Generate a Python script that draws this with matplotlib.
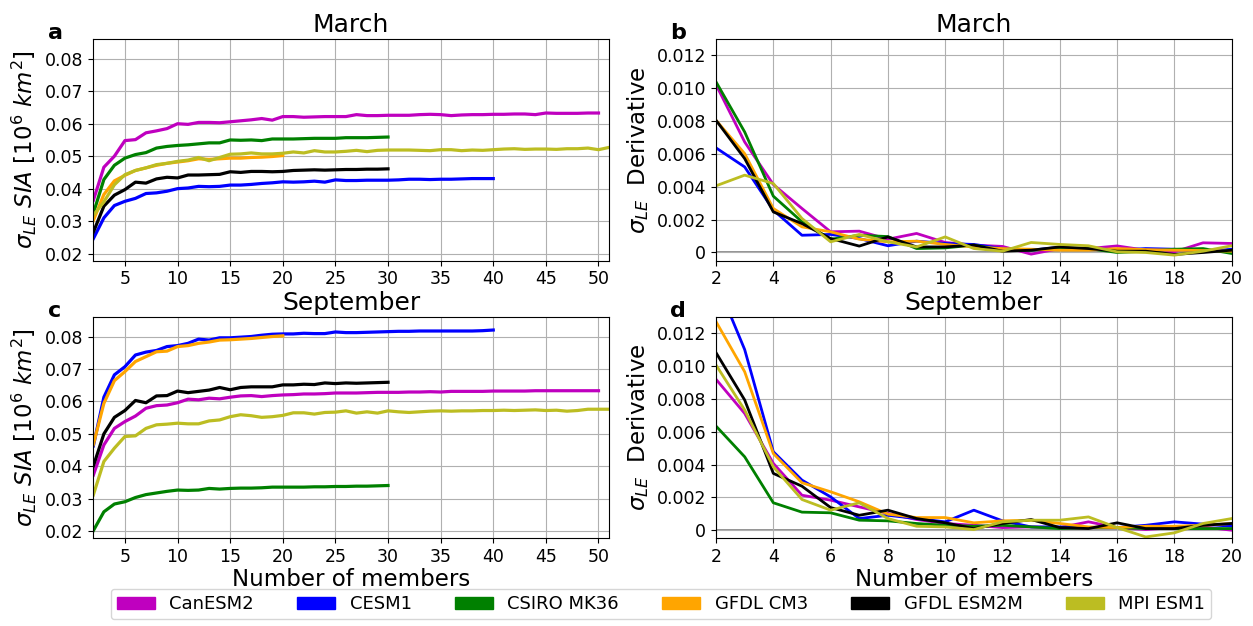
#!/usr/bin/env python3

import numpy as np
import matplotlib
matplotlib.use('Agg')
import matplotlib.pyplot as plt
import matplotlib.patches as mpatches

models = ['CanESM2', 'CESM1', 'CSIRO MK36', 'GFDL CM3', 'GFDL ESM2M', 'MPI ESM1']
colors = ['m', 'b', 'g', 'orange', 'k', 'tab:olive']

# sigma_LE of sea ice area vs ensemble size, starting at 2 members
mar_canesm2 = [0.0364, 0.0466, 0.0500, 0.0548, 0.0551, 0.0572, 0.0578, 0.0585, 0.0600, 0.0598,
               0.0604, 0.0604, 0.0603, 0.0606, 0.0609, 0.0612, 0.0616, 0.0611, 0.0622, 0.0622,
               0.0620, 0.0621, 0.0622, 0.0622, 0.0622, 0.0628, 0.0625, 0.0625, 0.0626, 0.0626,
               0.0626, 0.0628, 0.0629, 0.0628, 0.0625, 0.0627, 0.0628, 0.0628, 0.0629, 0.0629,
               0.0630, 0.0630, 0.0628, 0.0633, 0.0632, 0.0632, 0.0632, 0.0633, 0.0633]
mar_cesm1 = [0.0246, 0.0310, 0.0348, 0.0361, 0.0370, 0.0385, 0.0387, 0.0392, 0.0400, 0.0402,
             0.0407, 0.0406, 0.0407, 0.0411, 0.0411, 0.0413, 0.0416, 0.0418, 0.0421, 0.0420,
             0.0421, 0.0423, 0.0420, 0.0427, 0.0425, 0.0425, 0.0426, 0.0426, 0.0426, 0.0427,
             0.0429, 0.0429, 0.0428, 0.0429, 0.0429, 0.0430, 0.0431, 0.0431, 0.0431]
mar_csiro = [0.0324, 0.0428, 0.0472, 0.0494, 0.0505, 0.0511, 0.0525, 0.0530, 0.0533, 0.0535,
             0.0538, 0.0541, 0.0541, 0.0550, 0.0549, 0.0550, 0.0548, 0.0553, 0.0553, 0.0553,
             0.0554, 0.0555, 0.0555, 0.0555, 0.0557, 0.0557, 0.0557, 0.0558, 0.0559]
mar_gfdl_cm3 = [0.0302, 0.0382, 0.0424, 0.0441, 0.0456, 0.0464, 0.0472, 0.0478, 0.0482, 0.0486,
                0.0492, 0.0490, 0.0492, 0.0494, 0.0494, 0.0496, 0.0497, 0.0499, 0.0502]
mar_gfdl_esm2m = [0.0266, 0.0346, 0.0380, 0.0397, 0.0420, 0.0417, 0.0430, 0.0435, 0.0433, 0.0442,
                  0.0442, 0.0443, 0.0444, 0.0452, 0.0450, 0.0453, 0.0453, 0.0452, 0.0453, 0.0456,
                  0.0457, 0.0458, 0.0457, 0.0458, 0.0459, 0.0459, 0.0460, 0.0460, 0.0461]
mar_mpi = [0.0318, 0.0359, 0.0412, 0.0443, 0.0456, 0.0464, 0.0474, 0.0478, 0.0484, 0.0488,
           0.0496, 0.0486, 0.0496, 0.0506, 0.0507, 0.0510, 0.0507, 0.0507, 0.0509, 0.0513,
           0.0510, 0.0517, 0.0513, 0.0513, 0.0515, 0.0518, 0.0514, 0.0518, 0.0519, 0.0519,
           0.0519, 0.0518, 0.0517, 0.0520, 0.0520, 0.0517, 0.0519, 0.0518, 0.0520, 0.0522,
           0.0523, 0.0521, 0.0522, 0.0522, 0.0521, 0.0523, 0.0523, 0.0525, 0.0520, 0.0527]

sep_canesm2 = [0.0373, 0.0466, 0.0517, 0.0538, 0.0555, 0.0579, 0.0587, 0.0589, 0.0596, 0.0607,
               0.0605, 0.0610, 0.0608, 0.0613, 0.0617, 0.0618, 0.0615, 0.0618, 0.0620, 0.0621,
               0.0623, 0.0623, 0.0624, 0.0626, 0.0626, 0.0626, 0.0627, 0.0628, 0.0628, 0.0628,
               0.0629, 0.0629, 0.0630, 0.0629, 0.0631, 0.0631, 0.0631, 0.0631, 0.0632, 0.0632,
               0.0632, 0.0632, 0.0633, 0.0633, 0.0633, 0.0633, 0.0633, 0.0633, 0.0633]
sep_cesm1 = [0.0463, 0.0613, 0.0682, 0.0707, 0.0743, 0.0752, 0.0757, 0.0769, 0.0772, 0.0779,
             0.0792, 0.0789, 0.0796, 0.0796, 0.0798, 0.0800, 0.0804, 0.0807, 0.0808, 0.0808,
             0.0810, 0.0809, 0.0809, 0.0814, 0.0812, 0.0812, 0.0813, 0.0814, 0.0815, 0.0816,
             0.0816, 0.0817, 0.0817, 0.0817, 0.0817, 0.0817, 0.0817, 0.0818, 0.0820]
sep_csiro = [0.0202, 0.0260, 0.0284, 0.0291, 0.0304, 0.0313, 0.0318, 0.0323, 0.0327, 0.0326,
             0.0327, 0.0332, 0.0330, 0.0332, 0.0333, 0.0333, 0.0334, 0.0336, 0.0336, 0.0336,
             0.0336, 0.0337, 0.0337, 0.0338, 0.0338, 0.0339, 0.0339, 0.0340, 0.0341]
sep_gfdl_cm3 = [0.0467, 0.0594, 0.0664, 0.0692, 0.0723, 0.0738, 0.0753, 0.0755, 0.0769, 0.0772,
                0.0779, 0.0783, 0.0789, 0.0790, 0.0792, 0.0794, 0.0797, 0.0800, 0.0802]
sep_gfdl_esm2m = [0.0401, 0.0500, 0.0551, 0.0572, 0.0603, 0.0596, 0.0617, 0.0618, 0.0632, 0.0627,
                  0.0631, 0.0635, 0.0643, 0.0636, 0.0643, 0.0645, 0.0645, 0.0645, 0.0651, 0.0651,
                  0.0653, 0.0652, 0.0657, 0.0655, 0.0657, 0.0656, 0.0657, 0.0658, 0.0659]
sep_mpi = [0.0312, 0.0415, 0.0456, 0.0492, 0.0494, 0.0517, 0.0528, 0.0530, 0.0533, 0.0531,
           0.0531, 0.0540, 0.0543, 0.0553, 0.0559, 0.0556, 0.0551, 0.0553, 0.0557, 0.0565,
           0.0565, 0.0561, 0.0566, 0.0567, 0.0571, 0.0564, 0.0568, 0.0564, 0.0571, 0.0568,
           0.0566, 0.0568, 0.0570, 0.0571, 0.0570, 0.0571, 0.0571, 0.0572, 0.0572, 0.0573,
           0.0572, 0.0573, 0.0574, 0.0572, 0.0573, 0.0570, 0.0572, 0.0576, 0.0576, 0.0576]

# derivative of sigma_LE, members 2..20
dmar_canesm2 = [0.01022, 0.00673, 0.00414, 0.00268, 0.00126, 0.00130, 0.00081, 0.00116, 0.00061, 0.00045,
                0.00037, -0.00010, 0.00024, 0.00024, 0.00040, 0.00014, 0.00004, 0.00059, 0.00055]
dmar_cesm1 = [0.00637, 0.00521, 0.00258, 0.00105, 0.00110, 0.00085, 0.00041, 0.00069, 0.00055, 0.00049,
              0.00024, 0.00014, 0.00032, 0.00024, 0.00014, 0.00024, 0.00020, 0.00004, 0.00020]
dmar_csiro = [0.01039, 0.00734, 0.00343, 0.00187, 0.00081, 0.00105, 0.00097, 0.00024, 0.00028, 0.00045,
              0.00014, 0.00014, 0.00024, 0.00024, 0.00000, 0.00008, 0.00020, 0.00024, -0.00006]
dmar_gfdl_cm3 = [0.00805, 0.00602, 0.00268, 0.00156, 0.00126, 0.00081, 0.00065, 0.00069, 0.00049, 0.00034,
                 0.00024, 0.00020, 0.00014, 0.00014, 0.00024, 0.00018, 0.00014, 0.00012, 0.00008]
dmar_gfdl_esm2m = [0.00805, 0.00572, 0.00247, 0.00176, 0.00085, 0.00039, 0.00095, 0.00034, 0.00034, 0.00045,
                   0.00008, 0.00014, 0.00034, 0.00024, 0.00008, 0.00008, -0.00012, 0.00000, 0.00014]
dmar_mpi = [0.00406, 0.00471, 0.00420, 0.00207, 0.00065, 0.00110, 0.00065, 0.00034, 0.00095, 0.00024,
            0.00008, 0.00061, 0.00049, 0.00041, 0.00004, 0.00000, -0.00016, 0.00008, 0.00041]

dsep_canesm2 = [0.00919, 0.00711, 0.00407, 0.00213, 0.00183, 0.00142, 0.00102, 0.00065, 0.00041, 0.00030,
                0.00016, 0.00020, 0.00016, 0.00051, 0.00016, 0.00004, 0.00016, 0.00020, 0.00000]
dsep_cesm1 = [0.01520, 0.01100, 0.00478, 0.00305, 0.00203, 0.00071, 0.00091, 0.00071, 0.00051, 0.00122,
              0.00057, 0.00020, 0.00020, 0.00016, 0.00016, 0.00030, 0.00051, 0.00037, 0.00024]
dsep_csiro = [0.00634, 0.00447, 0.00167, 0.00110, 0.00106, 0.00061, 0.00057, 0.00041, 0.00030, 0.00024,
              0.00030, 0.00020, 0.00010, 0.00016, 0.00016, 0.00010, 0.00010, 0.00010, 0.00010]
dsep_gfdl_cm3 = [0.01270, 0.00965, 0.00467, 0.00289, 0.00234, 0.00173, 0.00098, 0.00077, 0.00077, 0.00045,
                 0.00057, 0.00061, 0.00041, 0.00020, 0.00016, 0.00024, 0.00024, 0.00030, 0.00041]
dsep_gfdl_esm2m = [0.01081, 0.00793, 0.00346, 0.00268, 0.00138, 0.00091, 0.00122, 0.00071, 0.00045, 0.00010,
                   0.00041, 0.00065, 0.00016, 0.00010, 0.00045, 0.00010, 0.00010, 0.00030, 0.00041]
dsep_mpi = [0.01006, 0.00732, 0.00386, 0.00187, 0.00122, 0.00167, 0.00071, 0.00024, 0.00020, 0.00004,
            0.00051, 0.00061, 0.00061, 0.00081, 0.00016, -0.00041, -0.00016, 0.00041, 0.00071]

sia_ticks = [0.02, 0.03, 0.04, 0.05, 0.06, 0.07, 0.08]
deriv_ticks = [0, 0.002, 0.004, 0.006, 0.008, 0.010, 0.012]
deriv_labels = ['0', '0.002', '0.004', '0.006', '0.008', '0.010', '0.012']

plt.rcParams['font.size'] = 12.5

fig, axes = plt.subplots(2, 2, figsize=(12.53, 6.26), dpi=100)
fig.subplots_adjust(left=0.0745, right=0.983, top=0.9377, bottom=0.1399,
                    wspace=0.2075, hspace=0.2526)


def plot_sia(ax, series, title, letter, xlabel=False):
    for vals, c in zip(series, colors):
        x = np.arange(2, 2 + len(vals))
        ax.plot(x, vals, color=c, linewidth=2.3)
    ax.set_xlim(2, 51)
    ax.set_ylim(0.0178, 0.0861)
    ax.set_xticks(np.arange(5, 51, 5))
    ax.set_yticks(sia_ticks)
    ax.grid(True)
    ax.set_ylabel(r'$\sigma_{LE}\ SIA\ [10^6\ km^2]$', fontsize=16.5)
    ax.set_title(title, fontsize=18, pad=5)
    if xlabel:
        ax.set_xlabel('Number of members', fontsize=16.5, labelpad=1)
    ax.text(-0.088, 1.0, letter, transform=ax.transAxes, fontsize=16,
            fontweight='bold', va='baseline', ha='left')


def plot_deriv(ax, series, title, letter, xlabel=False):
    ax.axhline(0, color='gray', linewidth=1.2, zorder=1)
    for vals, c in zip(series, colors):
        x = np.arange(2, 2 + len(vals))
        ax.plot(x, vals, color=c, linewidth=2.0)
    ax.set_xlim(2, 20)
    ax.set_ylim(-0.0005, 0.013)
    ax.set_xticks(np.arange(2, 21, 2))
    ax.set_yticks(deriv_ticks, deriv_labels)
    ax.grid(True)
    ax.set_ylabel(r'$\sigma_{LE}$  Derivative', fontsize=16.5)
    ax.set_title(title, fontsize=18, pad=5)
    if xlabel:
        ax.set_xlabel('Number of members', fontsize=16.5, labelpad=1)
    ax.text(-0.089, 1.0, letter, transform=ax.transAxes, fontsize=16,
            fontweight='bold', va='baseline', ha='left')


plot_sia(axes[0, 0], [mar_canesm2, mar_cesm1, mar_csiro, mar_gfdl_cm3, mar_gfdl_esm2m, mar_mpi],
         'March', 'a')
plot_deriv(axes[0, 1], [dmar_canesm2, dmar_cesm1, dmar_csiro, dmar_gfdl_cm3, dmar_gfdl_esm2m, dmar_mpi],
           'March', 'b')
plot_sia(axes[1, 0], [sep_canesm2, sep_cesm1, sep_csiro, sep_gfdl_cm3, sep_gfdl_esm2m, sep_mpi],
         'September', 'c', xlabel=True)
plot_deriv(axes[1, 1], [dsep_canesm2, dsep_cesm1, dsep_csiro, dsep_gfdl_cm3, dsep_gfdl_esm2m, dsep_mpi],
           'September', 'd', xlabel=True)

handles = [mpatches.Patch(color=c, label=m) for m, c in zip(models, colors)]
fig.legend(handles=handles, loc='lower center', ncol=6, bbox_to_anchor=(0.5275, -0.004),
           fontsize=13, handlelength=2.1, columnspacing=2.4, borderpad=0.35)

fig.savefig('out.png', dpi=100)
